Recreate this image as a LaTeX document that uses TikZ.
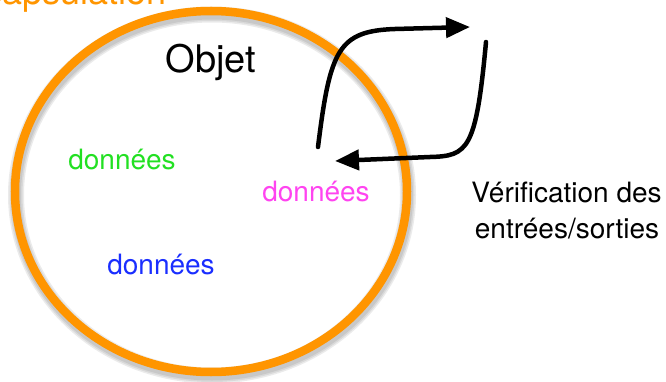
\documentclass[tikz,border=0pt]{standalone}
\usepackage{fontspec}
\setmainfont{TeX Gyre Heros}
\usetikzlibrary{arrows.meta}
\definecolor{ringorange}{HTML}{FF9500}
\definecolor{dgreen}{HTML}{22E022}
\definecolor{dpink}{HTML}{FF44F0}
\definecolor{dblue}{HTML}{1A2EFF}
\tikzset{
  ring/.style={draw=ringorange, line width=8.5pt},
  ringshadow/.style={draw=black, line width=#1, opacity=0.08},
  flow/.style={draw=black, line width=4.5pt, line cap=round,
    -{Triangle[length=24pt,width=20pt]}},
  label/.style={anchor=base, inner sep=0pt, font=\fontsize{28}{32}\selectfont},
}
\begin{document}
\begin{tikzpicture}[x=1pt, y=-1pt]
\useasboundingbox (0,0) rectangle (666,382);
\clip (0,0) rectangle (666,382);

% slide title, cut by the top edge
\node[anchor=base east, inner sep=0pt, text=ringorange,
  font=\fontsize{36}{40}\selectfont] (title) at (167,5) {Encapsulation};

% soft shadow below the object boundary
\foreach \w in {16pt,13pt,10pt}
  \draw[ringshadow=\w] (212,195) ellipse [x radius=196, y radius=180.5];
% the object boundary
\draw[ring] (211,191.5) ellipse [x radius=196, y radius=180.5];

% texts
\node[anchor=base, inner sep=0pt, font=\fontsize{38}{42}\selectfont] (obj) at (211,73) {Objet};
\node[label, text=dgreen] (d1) at (122,170) {données};
\node[label, text=dpink] (d2) at (316,201) {données};
\node[label, text=dblue] (d3) at (161,274) {données};
\node[label] (v1) at (566.5,203) {Vérification des};
\node[label] (v2) at (567,238) {entrées/sorties};

% input / output arrows
\coordinate (a1s) at (318,147);
\coordinate (a1e) at (470,27);
\coordinate (a2s) at (486,42);
\coordinate (a2e) at (335,161);
\draw[flow] (a1s) .. controls (330,50) and (338,31) .. (395,29) -- (a1e);
\draw[flow] (a2s) .. controls (476,150) and (468,156) .. (430,157) -- (a2e);
\end{tikzpicture}
\end{document}
